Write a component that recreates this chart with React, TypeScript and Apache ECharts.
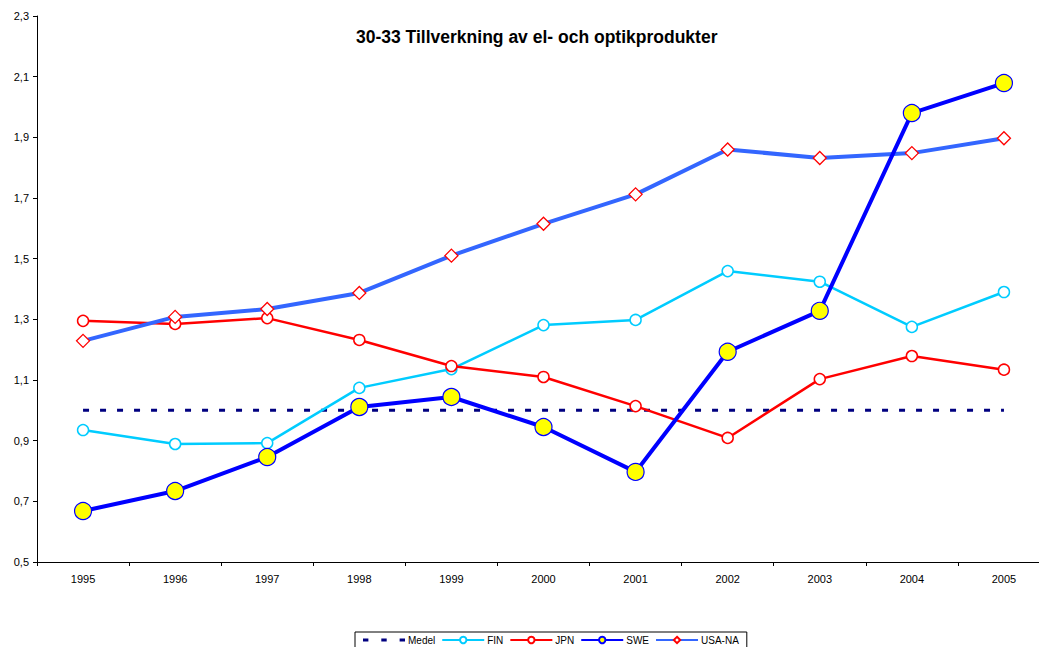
import React, { useEffect, useRef } from "react";
import * as echarts from "echarts";

const years = ["1995", "1996", "1997", "1998", "1999", "2000", "2001", "2002", "2003", "2004", "2005"];
const medel = [1, 1, 1, 1, 1, 1, 1, 1, 1, 1, 1];
const fin = [0.935, 0.889, 0.892, 1.074, 1.136, 1.281, 1.298, 1.459, 1.424, 1.275, 1.39];
const jpn = [1.295, 1.285, 1.304, 1.232, 1.146, 1.11, 1.014, 0.909, 1.103, 1.179, 1.134];
const swe = [0.668, 0.734, 0.846, 1.011, 1.044, 0.945, 0.797, 1.193, 1.328, 1.98, 2.079];
const usa = [1.229, 1.308, 1.334, 1.387, 1.51, 1.615, 1.712, 1.86, 1.832, 1.848, 1.897];
const title = "30-33 Tillverkning av el- och optikprodukter";

export default function App() {
  const ref = useRef<HTMLDivElement>(null);
  useEffect(() => {
    document.body.style.margin = "0";
    const chart = echarts.init(ref.current!, null, { renderer: "svg" });
    const font = "Liberation Sans, Arial, sans-serif";
    chart.setOption({
      animation: false,
      backgroundColor: "#ffffff",
      textStyle: { fontFamily: font },
      title: {
        text: title,
        left: 351,
        top: 23,
        textStyle: { fontSize: 17.5, fontWeight: "bold", color: "#000", fontFamily: font },
      },
      legend: {
        left: 355,
        top: 632,
        itemGap: 6,
        itemWidth: 42,
        itemHeight: 8,
        padding: [3, 8, 3, 8],
        borderColor: "#000",
        borderWidth: 1,
        textStyle: { fontSize: 10, color: "#000", fontFamily: font, padding: [0, 0, 0, -2] },
        data: [
          { name: "Medel", icon: "path://M0,0h5v3h-5z M17,0h5v3h-5z M34,0h5v3h-5z" },
          "FIN",
          "JPN",
          "SWE",
          "USA-NA",
        ],
      },
      grid: {
        left: 37,
        top: 16,
        width: 1013,
        height: 546,
        containLabel: false,
        outerBoundsMode: "none",
      },
      xAxis: {
        type: "category",
        data: years,
        boundaryGap: true,
        axisLine: { lineStyle: { color: "#000", width: 1 } },
        axisTick: { show: true, length: 4, lineStyle: { color: "#000" } },
        axisLabel: { color: "#000", fontSize: 11, margin: 11, fontFamily: font },
        splitLine: { show: false },
      },
      yAxis: {
        type: "value",
        min: 0.5,
        max: 2.3,
        interval: 0.2,
        axisLine: { show: true, lineStyle: { color: "#000", width: 1 } },
        axisTick: { show: true, length: 4, lineStyle: { color: "#000" } },
        axisLabel: {
          color: "#000",
          fontSize: 11,
          margin: 8,
          fontFamily: font,
          formatter: (v: number) => v.toFixed(1).replace(".", ","),
        },
        splitLine: { show: false },
      },
      series: [
        {
          name: "Medel",
          type: "line",
          data: medel,
          symbol: "none",
          lineStyle: { color: "#000080", width: 3, type: [6, 11] },
          itemStyle: { color: "#000080" },
          z: 1,
        },
        {
          name: "FIN",
          type: "line",
          data: fin,
          symbol: "circle",
          symbolSize: 11,
          lineStyle: { color: "#00CCFF", width: 2.5 },
          itemStyle: { color: "#ffffff", borderColor: "#00CCFF", borderWidth: 1.5 },
          z: 2,
        },
        {
          name: "JPN",
          type: "line",
          data: jpn,
          symbol: "circle",
          symbolSize: 11,
          lineStyle: { color: "#FF0000", width: 2.5 },
          itemStyle: { color: "#ffffff", borderColor: "#FF0000", borderWidth: 1.5 },
          z: 3,
        },
        {
          name: "SWE",
          type: "line",
          data: swe,
          symbol: "circle",
          symbolSize: 17,
          lineStyle: { color: "#0000FF", width: 4 },
          itemStyle: { color: "#FFFF00", borderColor: "#0000FF", borderWidth: 1.2 },
          z: 5,
        },
        {
          name: "USA-NA",
          type: "line",
          data: usa,
          symbol: "diamond",
          symbolSize: 13,
          lineStyle: { color: "#3366FF", width: 4 },
          itemStyle: { color: "#ffffff", borderColor: "#FF0000", borderWidth: 1.3 },
          z: 4,
        },
      ],
    });
    return () => chart.dispose();
  }, []);
  return <div ref={ref} style={{ width: 1039, height: 647 }} />;
}
